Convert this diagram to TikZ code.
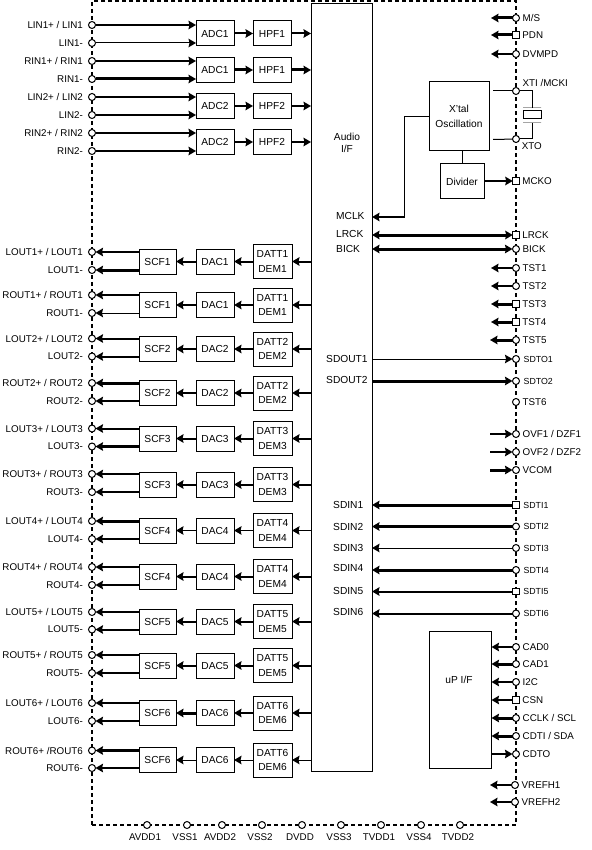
\documentclass[tikz,border=0pt]{standalone}
\usepackage{fontspec}
\setmainfont{Liberation Sans}
\usepackage{tikz}
\usetikzlibrary{positioning,arrows.meta}
\newcommand{\blkfont}{\fontsize{10.2}{14.5}\selectfont}
\newcommand{\labfont}{\fontsize{9.8}{11}\selectfont}
\newcommand{\sdtfont}{\fontsize{8.8}{10}\selectfont}
\tikzset{
  hd/.tip={Stealth[length=7.5pt,width=8.5pt,inset=1pt]},
  chipbox/.style={draw, dashed, dash pattern=on 4pt off 3pt, line width=2pt, minimum width=424pt, minimum height=824pt, inner sep=0pt, outer sep=0pt},
  blk/.style={draw, line width=1pt, fill=white, align=center, inner sep=0pt, outer sep=0pt, font=\blkfont},
  inbox/.style={blk, minimum width=38pt, minimum height=25pt},
  scfbox/.style={blk, minimum width=37pt, minimum height=25pt},
  dacbox/.style={blk, minimum width=38pt, minimum height=25pt},
  dembox/.style={blk, minimum width=39pt, minimum height=34pt},
  pad/.style={circle, draw, line width=1pt, fill=white, inner sep=0pt, minimum size=7pt, outer sep=0pt},
  sq/.style={rectangle, minimum size=6.5pt},
  plab/.style={font=\labfont, inner sep=0pt},
  padl/.style={pad, label={[plab, label distance=5.5pt]left:#1}},
  padr/.style={pad, label={[plab, label distance=3pt]right:#1}},
  padt/.style={pad, label={[plab, font=\sdtfont, label distance=4pt]right:#1}},
  padb/.style={pad, label={[plab, xshift=-2pt, label distance=5pt]below:#1}},
  sig/.style={font=\blkfont, inner sep=0pt, anchor=west},
  plate/.style={draw, line width=1pt, minimum width=18pt, minimum height=0pt, inner sep=0pt, outer sep=0pt},
  arrt/.style={-{hd}, line width=1pt},
  arrm/.style={-{hd}, line width=2pt},
  arrb/.style={-{hd}, line width=3pt},
  wire/.style={line width=1pt},
}
\begin{document}
\begin{tikzpicture}[x=1pt,y=-1pt]
  \useasboundingbox (0,0) rectangle (591,850);
  \node[chipbox] (chip) at (304,413) {};
  \node[blk, minimum width=61pt, minimum height=767pt] (audio) at (341.5,387.5) {};
  \node[font=\blkfont, align=center, inner sep=0pt] (audiot) at (347,143) {Audio\\[-2.5pt]I/F};

  % analog inputs
  \node[padl=LIN1+ / LIN1] (lin1p) at (92,25) {};
  \node[padl=LIN1-] (lin1m) at (92,43) {};
  \node[padl=RIN1+ / RIN1] (rin1p) at (92,61) {};
  \node[padl=RIN1-] (rin1m) at (92,79) {};
  \node[padl=LIN2+ / LIN2] (lin2p) at (92,97) {};
  \node[padl=LIN2-] (lin2m) at (92,115) {};
  \node[padl=RIN2+ / RIN2] (rin2p) at (92,133) {};
  \node[padl=RIN2-] (rin2m) at (92,151) {};
  \node[inbox] (adc1a) at (215,33.5) {ADC1};
  \node[inbox, right=19pt of adc1a] (hpf1a) {HPF1};
  \node[inbox] (adc1b) at (215,70) {ADC1};
  \node[inbox, right=19pt of adc1b] (hpf1b) {HPF1};
  \node[inbox] (adc2a) at (215,106) {ADC2};
  \node[inbox, right=19pt of adc2a] (hpf2a) {HPF2};
  \node[inbox] (adc2b) at (215,142) {ADC2};
  \node[inbox, right=19pt of adc2b] (hpf2b) {HPF2};
  \draw[arrm] (lin1p)--(lin1p -| adc1a.west); \draw[arrt] (lin1m)--(lin1m -| adc1a.west);
  \draw[arrm] (rin1p)--(rin1p -| adc1b.west); \draw[arrb] (rin1m)--(rin1m -| adc1b.west);
  \draw[arrm] (lin2p)--(lin2p -| adc2a.west); \draw[arrm] (lin2m)--(lin2m -| adc2a.west);
  \draw[arrm] (rin2p)--(rin2p -| adc2b.west); \draw[arrm] (rin2m)--(rin2m -| adc2b.west);
  \draw[arrm] (adc1a)--(hpf1a); \draw[arrm] (hpf1a)--(hpf1a -| audio.west);
  \draw[arrb] (adc1b)--(hpf1b); \draw[arrb] (hpf1b)--(hpf1b -| audio.west);
  \draw[arrm] (adc2a)--(hpf2a); \draw[arrm] (hpf2a)--(hpf2a -| audio.west);
  \draw[arrm] (adc2b)--(hpf2b); \draw[arrm] (hpf2b)--(hpf2b -| audio.west);

  % analog outputs
  \node[padl=LOUT1+ / LOUT1] (lout1p) at (92,252) {};
  \node[padl=LOUT1-] (lout1m) at (92,270) {};
  \node[scfbox] (scf1a) at (157.5,261.5) {SCF1};
  \node[dacbox, right=20pt of scf1a] (dac1a) {DAC1};
  \node[dembox, right=19pt of dac1a] (dem1a) {DATT1\\DEM1};
  \draw[arrm] (scf1a.west |- lout1p)--(lout1p); \draw[arrb] (scf1a.west |- lout1m)--(lout1m);
  \draw[arrm] (dac1a)--(scf1a); \draw[arrm] (dem1a)--(dac1a); \draw[arrm] (dem1a -| audio.west)--(dem1a);

  \node[padl=ROUT1+ / ROUT1] (rout1p) at (92,295) {};
  \node[padl=ROUT1-] (rout1m) at (92,313) {};
  \node[scfbox] (scf1b) at (157.5,305) {SCF1};
  \node[dacbox, right=20pt of scf1b] (dac1b) {DAC1};
  \node[dembox, right=19pt of dac1b] (dem1b) {DATT1\\DEM1};
  \draw[arrm] (scf1b.west |- rout1p)--(rout1p); \draw[arrt] (scf1b.west |- rout1m)--(rout1m);
  \draw[arrm] (dac1b)--(scf1b); \draw[arrm] (dem1b)--(dac1b); \draw[arrm] (dem1b -| audio.west)--(dem1b);

  \node[padl=LOUT2+ / LOUT2] (lout2p) at (92,338.5) {};
  \node[padl=LOUT2-] (lout2m) at (92,356.5) {};
  \node[scfbox] (scf2a) at (157.5,349) {SCF2};
  \node[dacbox, right=20pt of scf2a] (dac2a) {DAC2};
  \node[dembox, right=19pt of dac2a] (dem2a) {DATT2\\DEM2};
  \draw[arrm] (scf2a.west |- lout2p)--(lout2p); \draw[arrm] (scf2a.west |- lout2m)--(lout2m);
  \draw[arrm] (dac2a)--(scf2a); \draw[arrm] (dem2a)--(dac2a); \draw[arrm] (dem2a -| audio.west)--(dem2a);

  \node[padl=ROUT2+ / ROUT2] (rout2p) at (92,383) {};
  \node[padl=ROUT2-] (rout2m) at (92,401) {};
  \node[scfbox] (scf2b) at (157.5,393) {SCF2};
  \node[dacbox, right=20pt of scf2b] (dac2b) {DAC2};
  \node[dembox, right=19pt of dac2b] (dem2b) {DATT2\\DEM2};
  \draw[arrb] (scf2b.west |- rout2p)--(rout2p); \draw[arrm] (scf2b.west |- rout2m)--(rout2m);
  \draw[arrm] (dac2b)--(scf2b); \draw[arrm] (dem2b)--(dac2b); \draw[arrm] (dem2b -| audio.west)--(dem2b);

  \node[padl=LOUT3+ / LOUT3] (lout3p) at (92,428.5) {};
  \node[padl=LOUT3-] (lout3m) at (92,446.5) {};
  \node[scfbox] (scf3a) at (157.5,438.5) {SCF3};
  \node[dacbox, right=20pt of scf3a] (dac3a) {DAC3};
  \node[dembox, right=19pt of dac3a] (dem3a) {DATT3\\DEM3};
  \draw[arrm] (scf3a.west |- lout3p)--(lout3p); \draw[arrb] (scf3a.west |- lout3m)--(lout3m);
  \draw[arrm] (dac3a)--(scf3a); \draw[arrm] (dem3a)--(dac3a); \draw[arrm] (dem3a -| audio.west)--(dem3a);

  \node[padl=ROUT3+ / ROUT3] (rout3p) at (92,474) {};
  \node[padl=ROUT3-] (rout3m) at (92,492) {};
  \node[scfbox] (scf3b) at (157.5,484.5) {SCF3};
  \node[dacbox, right=20pt of scf3b] (dac3b) {DAC3};
  \node[dembox, right=19pt of dac3b] (dem3b) {DATT3\\DEM3};
  \draw[arrm] (scf3b.west |- rout3p)--(rout3p); \draw[arrm] (scf3b.west |- rout3m)--(rout3m);
  \draw[arrm] (dac3b)--(scf3b); \draw[arrm] (dem3b)--(dac3b); \draw[arrm] (dem3b -| audio.west)--(dem3b);

  \node[padl=LOUT4+ / LOUT4] (lout4p) at (92,521) {};
  \node[padl=LOUT4-] (lout4m) at (92,539) {};
  \node[scfbox] (scf4a) at (157.5,530.5) {SCF4};
  \node[dacbox, right=20pt of scf4a] (dac4a) {DAC4};
  \node[dembox, right=19pt of dac4a] (dem4a) {DATT4\\DEM4};
  \draw[arrb] (scf4a.west |- lout4p)--(lout4p); \draw[arrm] (scf4a.west |- lout4m)--(lout4m);
  \draw[arrt] (dac4a)--(scf4a); \draw[arrt] (dem4a)--(dac4a); \draw[arrt] (dem4a -| audio.west)--(dem4a);

  \node[padl=ROUT4+ / ROUT4] (rout4p) at (92,567) {};
  \node[padl=ROUT4-] (rout4m) at (92,585) {};
  \node[scfbox] (scf4b) at (157.5,576.5) {SCF4};
  \node[dacbox, right=20pt of scf4b] (dac4b) {DAC4};
  \node[dembox, right=19pt of dac4b] (dem4b) {DATT4\\DEM4};
  \draw[arrm] (scf4b.west |- rout4p)--(rout4p); \draw[arrm] (scf4b.west |- rout4m)--(rout4m);
  \draw[arrm] (dac4b)--(scf4b); \draw[arrm] (dem4b)--(dac4b); \draw[arrm] (dem4b -| audio.west)--(dem4b);

  \node[padl=LOUT5+ / LOUT5] (lout5p) at (92,612) {};
  \node[padl=LOUT5-] (lout5m) at (92,629.5) {};
  \node[scfbox] (scf5a) at (157.5,621.5) {SCF5};
  \node[dacbox, right=20pt of scf5a] (dac5a) {DAC5};
  \node[dembox, right=19pt of dac5a] (dem5a) {DATT5\\DEM5};
  \draw[arrm] (scf5a.west |- lout5p)--(lout5p); \draw[arrm] (scf5a.west |- lout5m)--(lout5m);
  \draw[arrm] (dac5a)--(scf5a); \draw[arrm] (dem5a)--(dac5a); \draw[arrm] (dem5a -| audio.west)--(dem5a);

  \node[padl=ROUT5+ / ROUT5] (rout5p) at (92,655) {};
  \node[padl=ROUT5-] (rout5m) at (92,673) {};
  \node[scfbox] (scf5b) at (157.5,665.5) {SCF5};
  \node[dacbox, right=20pt of scf5b] (dac5b) {DAC5};
  \node[dembox, right=19pt of dac5b] (dem5b) {DATT5\\DEM5};
  \draw[arrm] (scf5b.west |- rout5p)--(rout5p); \draw[arrm] (scf5b.west |- rout5m)--(rout5m);
  \draw[arrm] (dac5b)--(scf5b); \draw[arrm] (dem5b)--(dac5b); \draw[arrm] (dem5b -| audio.west)--(dem5b);

  \node[padl=LOUT6+ / LOUT6] (lout6p) at (92,703) {};
  \node[padl=LOUT6-] (lout6m) at (92,721) {};
  \node[scfbox] (scf6a) at (157.5,713) {SCF6};
  \node[dacbox, right=20pt of scf6a] (dac6a) {DAC6};
  \node[dembox, right=19pt of dac6a] (dem6a) {DATT6\\DEM6};
  \draw[arrm] (scf6a.west |- lout6p)--(lout6p); \draw[arrm] (scf6a.west |- lout6m)--(lout6m);
  \draw[arrb] (dac6a)--(scf6a); \draw[arrm] (dem6a)--(dac6a); \draw[arrm] (dem6a -| audio.west)--(dem6a);

  \node[padl=ROUT6+ /ROUT6] (rout6p) at (92,750.5) {};
  \node[padl=ROUT6-] (rout6m) at (92,768) {};
  \node[scfbox] (scf6b) at (157.5,760) {SCF6};
  \node[dacbox, right=20pt of scf6b] (dac6b) {DAC6};
  \node[dembox, right=19pt of dac6b] (dem6b) {DATT6\\DEM6};
  \draw[arrb] (scf6b.west |- rout6p)--(rout6p); \draw[arrm] (scf6b.west |- rout6m)--(rout6m);
  \draw[arrt] (dac6b)--(scf6b); \draw[arrt] (dem6b)--(dac6b); \draw[arrt] (dem6b -| audio.west)--(dem6b);

  % control pins and oscillator
  \node[padr=M/S] (ms) at (516,18) {}; \coordinate (msx) at (491,18); \draw[arrb] (ms)--(msx);
  \node[padr=PDN, sq] (pdn) at (516,35) {}; \coordinate (pdnx) at (491,35); \draw[arrb] (pdn)--(pdnx);
  \node[padr=DVMPD] (dvmpd) at (516,54) {}; \coordinate (dvmpdx) at (491,54); \draw[arrm] (dvmpd)--(dvmpdx);
  \node[blk, minimum width=60pt, minimum height=69pt] (xtal) at (459,116.5) {X'tal\\Oscillation};
  \node[blk, minimum width=44pt, minimum height=35pt] (divider) at (462,181.5) {Divider};
  \node[pad, label={[plab, xshift=2.5pt, label distance=2pt]above right:XTI /MCKI}] (xti) at (516,91) {};
  \node[pad, label={[plab, xshift=2.5pt, label distance=1pt]below right:XTO}] (xto) at (516,139) {};
  \node[padr=MCKO, sq] (mcko) at (516,181) {};
  \node[blk, minimum width=18pt, minimum height=8pt] (xcry) at (532,115) {};
  \node[plate] (xup) at (532,108) {};
  \node[plate] (xlo) at (532,123) {};
  \coordinate (xtalr) at (493,91); \coordinate (xtaly) at (493,139.5);
  \draw[wire] (xtalr)--(xti); \draw[wire] (xtaly)--(xto);
  \draw[wire] (xti)-|(xup); \draw[wire] (xlo)|-(xto);
  \draw[wire] (xtal.south -| divider)--(divider);
  \draw[arrm] (divider.east |- mcko)--(mcko);
  \coordinate (mclkc) at (404.5,217);
  \draw[wire] (xtal.west)-|(mclkc); \draw[arrm] (mclkc)--(mclkc -| audio.east);
  \node[sig] (mclk) at (336,216) {MCLK};
  \node[sig] (lrck) at (336,234) {LRCK};
  \node[sig] (bick) at (336,249) {BICK};
  \node[padr=LRCK, sq] (plrck) at (516,235) {};
  \node[padr=BICK] (pbick) at (516,249) {};
  \draw[arrb, {hd}-{hd}] (plrck -| audio.east)--(plrck);
  \draw[arrb, {hd}-{hd}] (pbick -| audio.east)--(pbick);

  \node[padr=TST1] (tst1) at (516,268) {}; \coordinate (tst1x) at (491,268); \draw[arrm] (tst1)--(tst1x);
  \node[padr=TST2] (tst2) at (516,286) {}; \coordinate (tst2x) at (491,286); \draw[arrm] (tst2)--(tst2x);
  \node[padr=TST3, sq] (tst3) at (516,304) {}; \coordinate (tst3x) at (491,304); \draw[arrb] (tst3)--(tst3x);
  \node[padr=TST4, sq] (tst4) at (516,322) {}; \coordinate (tst4x) at (491,322); \draw[arrb] (tst4)--(tst4x);
  \node[padr=TST5] (tst5) at (516,340) {}; \coordinate (tst5x) at (490,340); \draw[arrb] (tst5)--(tst5x);

  \node[sig] (sdout1) at (326,359) {SDOUT1};
  \node[sig] (sdout2) at (326,380) {SDOUT2};
  \node[padt=SDTO1] (sdto1) at (516,359) {};
  \node[padt=SDTO2] (sdto2) at (516,381) {};
  \node[padr=TST6] (tst6) at (516,402) {};
  \draw[arrt] (sdto1 -| audio.east)--(sdto1);
  \draw[arrb] (sdto2 -| audio.east)--(sdto2);

  \node[padr=OVF1 / DZF1] (ovf1) at (516,434) {}; \coordinate (ovf1x) at (490,434); \draw[arrm] (ovf1x)--(ovf1);
  \node[padr=OVF2 / DZF2] (ovf2) at (516,452) {}; \coordinate (ovf2x) at (490,452); \draw[arrm] (ovf2x)--(ovf2);
  \node[padr=VCOM] (vcom) at (516,470) {}; \coordinate (vcomx) at (490,470); \draw[arrb] (vcomx)--(vcom);

  \node[sig] (sdin1) at (333,505) {SDIN1};
  \node[sig] (sdin2) at (333,527) {SDIN2};
  \node[sig] (sdin3) at (333,548) {SDIN3};
  \node[sig] (sdin4) at (333,568) {SDIN4};
  \node[sig] (sdin5) at (333,591) {SDIN5};
  \node[sig] (sdin6) at (333,612) {SDIN6};
  \node[padt=SDTI1, sq] (sdti1) at (516,505) {};
  \node[padt=SDTI2] (sdti2) at (516,526.5) {};
  \node[padt=SDTI3] (sdti3) at (516,548) {};
  \node[padt=SDTI4] (sdti4) at (516,570) {};
  \node[padt=SDTI5, sq] (sdti5) at (516,591.5) {};
  \node[padt=SDTI6] (sdti6) at (516,613.5) {};
  \draw[arrb] (sdti1)--(sdti1 -| audio.east); \draw[arrb, line width=3.5pt] (sdti2)--(sdti2 -| audio.east);
  \draw[arrt] (sdti3)--(sdti3 -| audio.east); \draw[arrb] (sdti4)--(sdti4 -| audio.east);
  \draw[arrm] (sdti5)--(sdti5 -| audio.east); \draw[arrm] (sdti6)--(sdti6 -| audio.east);

  % control interface
  \node[blk, minimum width=62pt, minimum height=137pt] (upif) at (460.5,699.5) {};
  \node[font=\blkfont, inner sep=0pt] (upift) at (459,680) {uP I/F};
  \node[padr=CAD0] (cad0) at (516,647) {};
  \node[padr=CAD1] (cad1) at (516,664) {};
  \node[padr=I2C] (i2c) at (516,682) {};
  \node[padr=CSN, sq] (csn) at (516,700) {};
  \node[padr=CCLK / SCL] (cclk) at (516,718) {};
  \node[padr=CDTI / SDA] (cdti) at (516,736) {};
  \node[padr=CDTO] (cdto) at (516,754) {};
  \draw[arrm] (cad0)--(cad0 -| upif.east); \draw[arrb] (cad1)--(cad1 -| upif.east);
  \draw[arrm] (i2c)--(i2c -| upif.east); \draw[arrm] (csn)--(csn -| upif.east);
  \draw[arrb] (cclk)--(cclk -| upif.east); \draw[arrb] (cdti)--(cdti -| upif.east);
  \draw[arrm] (cdto -| upif.east)--(cdto);
  \node[padr=VREFH1] (vrefa) at (515,785) {}; \coordinate (vrefax) at (490,785); \draw[arrm] (vrefa)--(vrefax);
  \node[padr=VREFH2] (vrefb) at (515,802) {}; \coordinate (vrefbx) at (490,802); \draw[arrm] (vrefb)--(vrefbx);

  % supply pins
  \node[padb=AVDD1] (avdd1) at (147,825) {};
  \node[padb=VSS1] (vss1) at (187,825) {};
  \node[padb=AVDD2] (avdd2) at (222,825) {};
  \node[padb=VSS2] (vss2) at (262,825) {};
  \node[padb=DVDD] (dvdd) at (302,825) {};
  \node[padb=VSS3] (vss3) at (341,825) {};
  \node[padb=TVDD1] (tvdd1) at (381,825) {};
  \node[padb=VSS4] (vss4) at (421,825) {};
  \node[padb=TVDD2] (tvdd2) at (460,825) {};
\end{tikzpicture}
\end{document}
